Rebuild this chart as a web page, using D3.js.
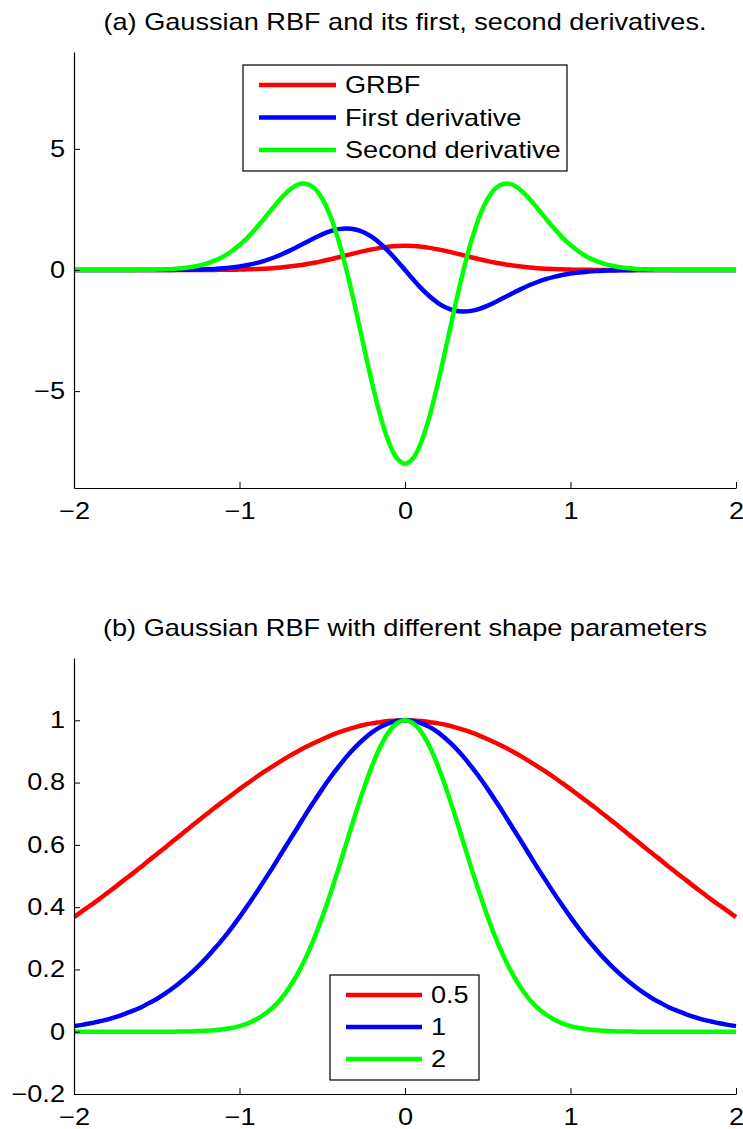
<!DOCTYPE html>
<html>
<head>
<meta charset="utf-8">
<script src="https://cdn.jsdelivr.net/npm/d3@7"></script>
<style>
  html, body { margin: 0; padding: 0; background: #fff; }
  svg { display: block; }
</style>
</head>
<body>
<svg id="fig" width="743" height="1129"></svg>
<script>
// Sample positions shared by every curve
const xs = [
  -2.00, -1.95, -1.90, -1.85, -1.80, -1.75, -1.70, -1.65, -1.60, -1.55,
  -1.50, -1.45, -1.40, -1.35, -1.30, -1.25, -1.20, -1.15, -1.10, -1.05,
  -1.00, -0.95, -0.90, -0.85, -0.80, -0.75, -0.70, -0.65, -0.60, -0.55,
  -0.50, -0.45, -0.40, -0.35, -0.30, -0.25, -0.20, -0.15, -0.10, -0.05,
   0,
   0.05,  0.10,  0.15,  0.20,  0.25,  0.30,  0.35,  0.40,  0.45,  0.50,
   0.55,  0.60,  0.65,  0.70,  0.75,  0.80,  0.85,  0.90,  0.95,  1.00,
   1.05,  1.10,  1.15,  1.20,  1.25,  1.30,  1.35,  1.40,  1.45,  1.50,
   1.55,  1.60,  1.65,  1.70,  1.75,  1.80,  1.85,  1.90,  1.95,  2.00];

// Panel (a): Gaussian RBF and its first and second derivatives
const grbf = [
  0, 0, 0, 0, 0, 0, 0, 0, 0, 0,
  0, 0, 0, 0.001, 0.001, 0.002, 0.003, 0.005, 0.008, 0.012,
  0.018, 0.027, 0.039, 0.056, 0.077, 0.105, 0.141, 0.185, 0.237, 0.298,
  0.368, 0.445, 0.527, 0.613, 0.698, 0.779, 0.852, 0.914, 0.961, 0.990,
  1,
  0.990, 0.961, 0.914, 0.852, 0.779, 0.698, 0.613, 0.527, 0.445, 0.368,
  0.298, 0.237, 0.185, 0.141, 0.105, 0.077, 0.056, 0.039, 0.027, 0.018,
  0.012, 0.008, 0.005, 0.003, 0.002, 0.001, 0.001, 0, 0, 0,
  0, 0, 0, 0, 0, 0, 0, 0, 0, 0];
const firstDerivative = [
  0, 0, 0, 0, 0, 0, 0, 0, 0, 0.001,
  0.001, 0.003, 0.004, 0.007, 0.012, 0.019, 0.030, 0.046, 0.070, 0.103,
  0.147, 0.206, 0.282, 0.378, 0.495, 0.630, 0.789, 0.962, 1.137, 1.311,
  1.472, 1.602, 1.687, 1.716, 1.674, 1.558, 1.363, 1.097, 0.769, 0.396,
  0,
  -0.396, -0.769, -1.097, -1.363, -1.558, -1.674, -1.716, -1.687, -1.602, -1.472,
  -1.311, -1.137, -0.962, -0.789, -0.630, -0.495, -0.378, -0.282, -0.206, -0.147,
  -0.103, -0.070, -0.046, -0.030, -0.019, -0.012, -0.007, -0.004, -0.003, -0.001,
  -0.001, 0, 0, 0, 0, 0, 0, 0, 0, 0];
const secondDerivative = [
  0, 0, 0, 0, 0, 0.001, 0.002, 0.003, 0.006, 0.010,
  0.017, 0.028, 0.046, 0.074, 0.116, 0.178, 0.265, 0.386, 0.549, 0.763,
  1.03, 1.35, 1.72, 2.13, 2.55, 2.95, 3.29, 3.52, 3.56, 3.39,
  2.94, 2.21, 1.18, -0.10, -1.56, -3.12, -4.64, -6.00, -7.07, -7.76,
  -8,
  -7.76, -7.07, -6.00, -4.64, -3.12, -1.56, -0.10, 1.18, 2.21, 2.94,
  3.39, 3.56, 3.52, 3.29, 2.95, 2.55, 2.13, 1.72, 1.35, 1.03,
  0.763, 0.549, 0.386, 0.265, 0.178, 0.116, 0.074, 0.046, 0.028, 0.017,
  0.010, 0.006, 0.003, 0.002, 0.001, 0, 0, 0, 0, 0];

// Panel (b): Gaussian RBF for shape parameters 0.5, 1 and 2
const shape05 = [
  0.368, 0.387, 0.406, 0.425, 0.445, 0.465, 0.486, 0.506, 0.527, 0.549,
  0.570, 0.591, 0.613, 0.634, 0.656, 0.677, 0.698, 0.719, 0.739, 0.759,
  0.779, 0.798, 0.817, 0.835, 0.852, 0.869, 0.885, 0.900, 0.914, 0.927,
  0.939, 0.951, 0.961, 0.970, 0.978, 0.985, 0.990, 0.994, 0.998, 0.999,
  1,
  0.999, 0.998, 0.994, 0.990, 0.985, 0.978, 0.970, 0.961, 0.951, 0.939,
  0.927, 0.914, 0.900, 0.885, 0.869, 0.852, 0.835, 0.817, 0.798, 0.779,
  0.759, 0.739, 0.719, 0.698, 0.677, 0.656, 0.634, 0.613, 0.591, 0.570,
  0.549, 0.527, 0.506, 0.486, 0.465, 0.445, 0.425, 0.406, 0.387, 0.368];
const shape1 = [
  0.018, 0.022, 0.027, 0.033, 0.039, 0.047, 0.056, 0.066, 0.077, 0.091,
  0.105, 0.122, 0.141, 0.162, 0.185, 0.210, 0.237, 0.267, 0.298, 0.332,
  0.368, 0.406, 0.445, 0.486, 0.527, 0.570, 0.613, 0.655, 0.698, 0.739,
  0.779, 0.817, 0.852, 0.885, 0.914, 0.939, 0.961, 0.978, 0.990, 0.998,
  1,
  0.998, 0.990, 0.978, 0.961, 0.939, 0.914, 0.885, 0.852, 0.817, 0.779,
  0.739, 0.698, 0.655, 0.613, 0.570, 0.527, 0.486, 0.445, 0.406, 0.368,
  0.332, 0.298, 0.267, 0.237, 0.210, 0.185, 0.162, 0.141, 0.122, 0.105,
  0.091, 0.077, 0.066, 0.056, 0.047, 0.039, 0.033, 0.027, 0.022, 0.018];
const shape2 = [
  0, 0, 0, 0, 0, 0, 0, 0, 0, 0,
  0, 0, 0, 0.001, 0.001, 0.002, 0.003, 0.005, 0.008, 0.012,
  0.018, 0.027, 0.039, 0.056, 0.077, 0.105, 0.141, 0.185, 0.237, 0.298,
  0.368, 0.445, 0.527, 0.613, 0.698, 0.779, 0.852, 0.914, 0.961, 0.990,
  1,
  0.990, 0.961, 0.914, 0.852, 0.779, 0.698, 0.613, 0.527, 0.445, 0.368,
  0.298, 0.237, 0.185, 0.141, 0.105, 0.077, 0.056, 0.039, 0.027, 0.018,
  0.012, 0.008, 0.005, 0.003, 0.002, 0.001, 0.001, 0, 0, 0,
  0, 0, 0, 0, 0, 0, 0, 0, 0, 0];

// Ticks, titles, legend labels
const xTicks = [-2, -1, 0, 1, 2];
const yTicksA = [-5, 0, 5];
const yTicksB = [-0.2, 0, 0.2, 0.4, 0.6, 0.8, 1];
const titleA = "(a) Gaussian RBF and its first, second derivatives.";
const titleB = "(b) Gaussian RBF with different shape parameters";
const legendA = ["GRBF", "First derivative", "Second derivative"];
const legendB = ["0.5", "1", "2"];
const colors = ["#ff0000", "#0000ff", "#00ff00"];

// Styling
const FONT = "'Liberation Sans', Arial, Helvetica, sans-serif";
const FS = 23;      // font size
const SX = 1.18;    // horizontal glyph stretch
const LW = 4.5;     // curve width

const svg = d3.select("#fig");

// Widen glyphs horizontally, keeping the text anchor where it was placed
function stretchText(sel) {
  sel.each(function () {
    const t = d3.select(this);
    const x = +t.attr("x") || 0;
    const y = +t.attr("y") || 0;
    t.attr("x", 0).attr("y", 0)
     .attr("transform", `translate(${x},${y}) scale(${SX},1)`);
  });
}

function panel(cfg) {
  const { left, right, top, bottom, yDomain, yTicks, series, title, legend } = cfg;
  const x = d3.scaleLinear().domain([-2, 2]).range([left, right]);
  const y = d3.scaleLinear().domain(yDomain).range([bottom, top]);
  const g = svg.append("g");

  const clipId = "clip" + Math.round(top);
  g.append("clipPath").attr("id", clipId)
    .append("rect").attr("x", left).attr("y", top - 3)
    .attr("width", right - left + 3).attr("height", bottom - top + 3);

  const line = d3.line()
    .x((d, i) => x(xs[i]))
    .y(d => y(d))
    .curve(d3.curveCatmullRom.alpha(0.5));

  const curves = g.append("g").attr("clip-path", `url(#${clipId})`);
  series.forEach((vals, i) => {
    curves.append("path")
      .attr("d", line(vals))
      .attr("fill", "none")
      .attr("stroke", colors[i])
      .attr("stroke-width", LW)
      .attr("stroke-linejoin", "round")
      .attr("stroke-linecap", "butt");
  });

  const fmt = d3.format("");
  const xAxis = g.append("g")
    .attr("transform", `translate(0,${bottom})`)
    .call(d3.axisBottom(x).tickValues(xTicks).tickFormat(fmt)
      .tickSizeInner(-6).tickSizeOuter(0).tickPadding(14.5));
  const yAxis = g.append("g")
    .attr("transform", `translate(${left},0)`)
    .call(d3.axisLeft(y).tickValues(yTicks).tickFormat(fmt)
      .tickSizeInner(-6).tickSizeOuter(0).tickPadding(9));

  [xAxis, yAxis].forEach(ax => {
    ax.attr("font-family", FONT).attr("font-size", FS);
    ax.select(".domain").attr("stroke", "#000").attr("stroke-width", 1.2);
    ax.selectAll(".tick line").attr("stroke", "#000").attr("stroke-width", 1);
    ax.selectAll(".tick text").attr("fill", "#000");
    stretchText(ax.selectAll(".tick text"));
  });

  // Title
  const tt = g.append("text")
    .attr("x", (left + right) / 2).attr("y", top - 22)
    .attr("text-anchor", "middle")
    .attr("font-family", FONT).attr("font-size", FS)
    .attr("fill", "#000")
    .text(title);
  stretchText(tt);

  // Legend
  const L = legend;
  const lg = g.append("g");
  lg.append("rect")
    .attr("x", L.x).attr("y", L.y).attr("width", L.w).attr("height", L.h)
    .attr("fill", "#fff").attr("stroke", "#000").attr("stroke-width", 1.2);
  L.labels.forEach((lab, i) => {
    const cy = L.firstRow + i * L.rowStep;
    lg.append("line")
      .attr("x1", L.lineX0).attr("x2", L.lineX1)
      .attr("y1", cy).attr("y2", cy)
      .attr("stroke", colors[i]).attr("stroke-width", LW);
    const t = lg.append("text")
      .attr("x", L.textX).attr("y", cy).attr("dy", "0.35em")
      .attr("font-family", FONT).attr("font-size", FS)
      .attr("fill", "#000").text(lab);
    stretchText(t);
  });
}

panel({
  left: 74, right: 736, top: 52, bottom: 488,
  yDomain: [-9, 9], yTicks: yTicksA,
  series: [grbf, firstDerivative, secondDerivative],
  title: titleA,
  legend: { x: 243, y: 65, w: 324, h: 106, lineX0: 259, lineX1: 336,
            textX: 345, firstRow: 85, rowStep: 32.5, labels: legendA }
});

panel({
  left: 74, right: 736, top: 658, bottom: 1094,
  yDomain: [-0.2, 1.2], yTicks: yTicksB,
  series: [shape05, shape1, shape2],
  title: titleB,
  legend: { x: 330, y: 975, w: 149, h: 105, lineX0: 346, lineX1: 422,
            textX: 431, firstRow: 995, rowStep: 32, labels: legendB }
});
</script>
</body>
</html>
